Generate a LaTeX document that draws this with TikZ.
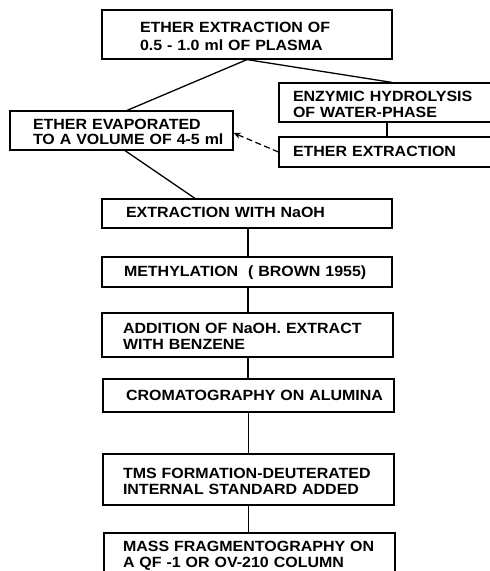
\documentclass[tikz,border=0pt]{standalone}
\usepackage{fontspec}
\setmainfont{Liberation Sans}[WordSpace=2.6, FakeStretch=1.08]
\usetikzlibrary{arrows.meta}
\begin{document}
\begin{tikzpicture}[x=1pt,y=-1pt,
  box/.style={draw, line width=1.2pt, inner sep=0pt, align=left,
    font=\fontsize{14.8}{15.5}\selectfont\bfseries},
  conn/.style={line width=1.3pt},
  dconn/.style={line width=1.2pt, dash pattern=on 6pt off 3.5pt, -{Stealth[length=7pt,width=6pt]}}]
\clip (0,0) rectangle (490,571);
\fill[white] (0,0) rectangle (490,571);
% boxes: name, center x, center y, width, height, left padding, text shift, text
\newcommand{\mybox}[8]{%
  \node[box, minimum height=#5pt, text width=#4pt, text height=0pt, text depth=0pt] (#1) at (#2,#3)
    {\hspace*{#6pt}\raisebox{#7pt}[0pt][0pt]{\begin{tabular}[c]{@{}l@{}}#8\end{tabular}}};}
\mybox{top}{247}{34.5}{290}{49}{38}{-7.6}{ETHER EXTRACTION OF\\[2.5pt]0.5 - 1.0 ml OF PLASMA}
\mybox{enz}{389.5}{102.5}{221}{39}{14}{-7.6}{ENZYMIC HYDROLYSIS\\OF WATER-PHASE}
\mybox{eth}{389.5}{152}{221}{30}{14}{-4.7}{ETHER EXTRACTION}
\mybox{left}{121.5}{130.5}{223}{39}{23}{-7.2}{ETHER EVAPORATED\\TO A VOLUME OF 4-5 ml}
\mybox{naoh}{247}{213.5}{290}{29}{24}{-4.5}{EXTRACTION WITH NaOH}
\mybox{meth}{247}{272}{290}{30}{22}{-4.5}{METHYLATION \ ( BROWN 1955)}
\mybox{add}{247.5}{335}{291}{44}{21}{-7}{ADDITION OF NaOH. EXTRACT\\WITH BENZENE}
\mybox{crom}{248.5}{395.5}{291}{33}{23}{-5}{CROMATOGRAPHY ON ALUMINA}
\mybox{tms}{248.5}{479.5}{291}{51}{20}{-7}{TMS FORMATION-DEUTERATED\\[0.5pt]INTERNAL STANDARD ADDED}
\mybox{mass}{249.5}{556}{291}{46}{19}{-4.2}{MASS FRAGMENTOGRAPHY ON\\[0.5pt]A QF -1 OR OV-210 COLUMN}
% connectors
\draw[conn] (top.south) -- ([xshift=5.5pt]left.north);
\draw[conn] (top.south) -- ([xshift=2.5pt]enz.north);
\draw[conn] ([xshift=-2.5pt]enz.south) -- ([xshift=-2.5pt]eth.north);
\draw[dconn] (eth.west) -- ([yshift=-2.5pt]left.east);
\draw[conn] ([xshift=3.5pt]left.south) -- ([xshift=-52pt]naoh.north);
\draw[conn] ([xshift=1pt]naoh.south) -- ([xshift=1pt]naoh.south |- meth.north);
\draw[conn] ([xshift=1pt]meth.south) -- ([xshift=1pt]meth.south |- add.north);
\draw[conn] ([xshift=0.5pt]add.south) -- ([xshift=0.5pt]add.south |- crom.north);
\draw[conn] (crom.south) -- (crom.south |- tms.north);
\draw[conn] (tms.south) -- (tms.south |- mass.north);
\end{tikzpicture}
\end{document}
